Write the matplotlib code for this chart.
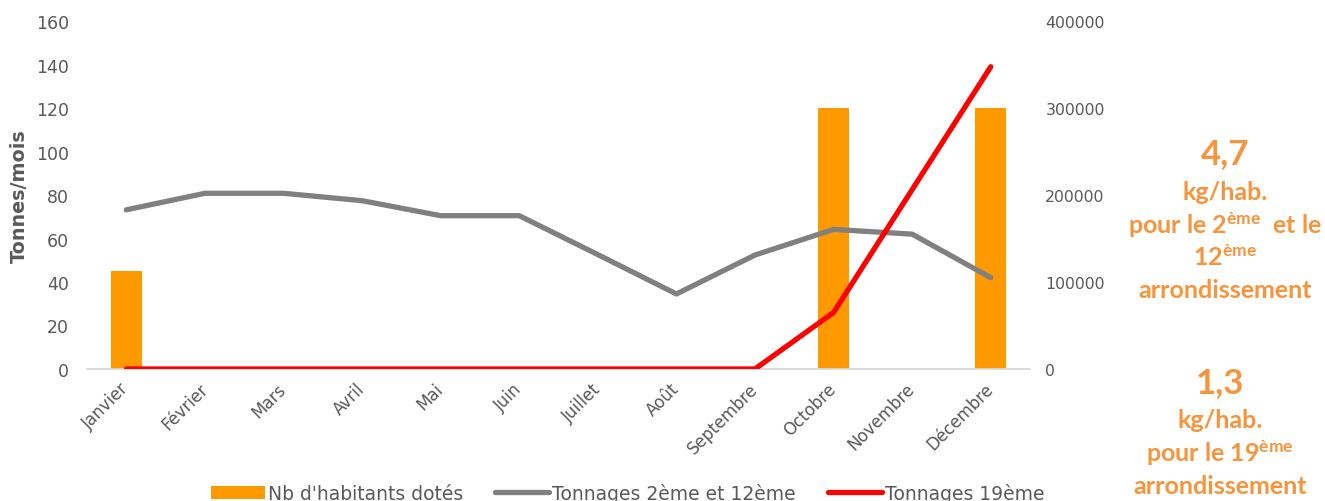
import matplotlib
matplotlib.use("Agg")
import matplotlib.pyplot as plt
from matplotlib.patches import Patch
from matplotlib.lines import Line2D
import numpy as np

months = ['Janvier', 'Février', 'Mars', 'Avril', 'Mai', 'Juin', 'Juillet',
          'Août', 'Septembre', 'Octobre', 'Novembre', 'Décembre']
habitants = [113000, 0, 0, 0, 0, 0, 0, 0, 0, 300000, 0, 300000]
tonnages_2_12 = [73.2, 80.8, 80.8, 77.4, 70.5, 70.5, 52.6, 34.5, 52.4, 64.2, 62.0, 42.0]
tonnages_19 = [0, 0, 0, 0, 0, 0, 0, 0, 0, 26.0, 82.5, 139.0]
left_ticks = [0, 20, 40, 60, 80, 100, 120, 140, 160]
right_ticks = [0, 100000, 200000, 300000, 400000]

plt.rcParams['font.family'] = ['DejaVu Sans']
plt.rcParams['mathtext.fontset'] = 'custom'
plt.rcParams['mathtext.rm'] = 'Lato:bold'
plt.rcParams['mathtext.it'] = 'Lato:bold'
plt.rcParams['mathtext.bf'] = 'Lato:bold'

TXT = '#595959'
ORANGE_BAR = '#FF9900'
ORANGE_TXT = '#F7943C'
GREY = '#808080'
RED = '#FF0000'

fig = plt.figure(figsize=(13.25, 5.02), dpi=100)
ax = fig.add_axes([0.0657, 0.263, 0.7117, 0.693])
ax2 = ax.twinx()

x = np.arange(len(months))
ax2.bar(x, habitants, width=0.4, color=ORANGE_BAR, zorder=2)
ax.plot(x, tonnages_2_12, color=GREY, lw=3.8, solid_capstyle='round', solid_joinstyle='round', zorder=3)
ax.plot(x, tonnages_19, color=RED, lw=3.8, solid_capstyle='round', solid_joinstyle='round', zorder=4)

ax.set_zorder(ax2.get_zorder() + 1)
ax.patch.set_visible(False)

ax.set_xlim(-0.5, len(months) - 0.5)
ax.set_ylim(0, 160)
ax2.set_ylim(0, 400000)
ax.set_yticks(left_ticks)
ax2.set_yticks(right_ticks)
ax2.set_yticklabels([str(v) for v in right_ticks])

for a in (ax, ax2):
    for s in a.spines.values():
        s.set_visible(False)
ax.spines['bottom'].set_visible(True)
ax.spines['bottom'].set_color('#D9D9D9')
ax.spines['bottom'].set_linewidth(1.3)

ax.set_xticks(x)
ax.set_xticklabels(months, rotation=45, ha='right', va='center', rotation_mode='anchor',
                   fontsize=12, color=TXT)
ax.tick_params(axis='x', length=0, pad=12)
ax.tick_params(axis='y', length=0, pad=13, labelsize=12.5, labelcolor=TXT)
ax2.tick_params(axis='y', length=0, pad=11, labelsize=11.3, labelcolor=TXT)

ax.set_ylabel('Tonnes/mois', fontsize=13.8, fontweight='bold', color=TXT, labelpad=5)

handles = [Patch(facecolor=ORANGE_BAR, edgecolor='none'),
           Line2D([], [], color=GREY, lw=3.8, solid_capstyle='round'),
           Line2D([], [], color=RED, lw=3.8, solid_capstyle='round')]
labels = ["Nb d'habitants dotés", 'Tonnages 2ème et 12ème', 'Tonnages 19ème']
fig.legend(handles, labels, loc='center', bbox_to_anchor=(0.4735, 0.016), ncol=3,
           frameon=False, fontsize=13.5, labelcolor=TXT, handlelength=2.9,
           handletextpad=0.15, columnspacing=1.7, borderaxespad=0)

W, H = 1325, 502
def ftext(px, py, s, size):
    fig.text(px / W, 1 - py / H, s, ha='center', va='center', fontsize=size,
             fontweight='bold', color=ORANGE_TXT, family=['Lato', 'DejaVu Sans'])

ftext(1225, 154, '4,7', 25)
ftext(1225, 193, 'kg/hab.', 18)
ftext(1225, 225, 'pour le 2$^{\\mathrm{ème}}$  et le', 18)
ftext(1225, 257, '12$^{\\mathrm{ème}}$', 18)
ftext(1225, 291, 'arrondissement', 18)
ftext(1220, 383, '1,3', 25)
ftext(1220, 421, 'kg/hab.', 18)
ftext(1220, 453, 'pour le 19$^{\\mathrm{ème}}$', 18)
ftext(1220, 487, 'arrondissement', 18)

fig.savefig('out.png', dpi=100)
